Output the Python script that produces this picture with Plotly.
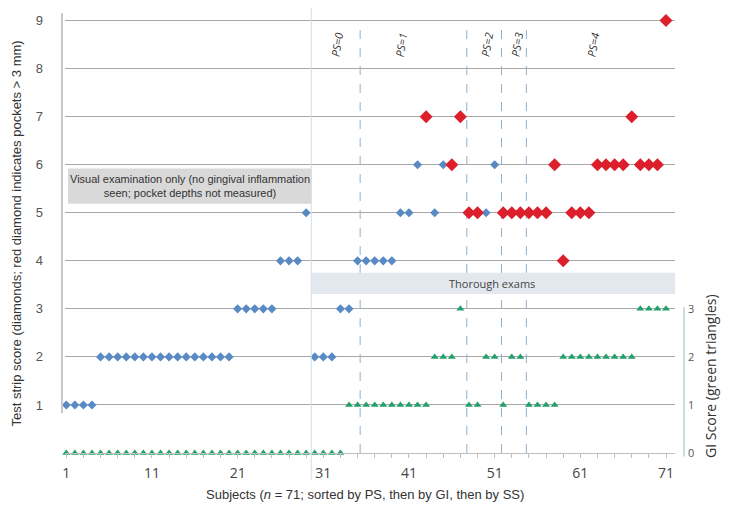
import plotly.graph_objects as go

# subject index 1..71 (sorted by PS, then GI, then SS)
subjects = list(range(1, 72))

# test strip score per subject
ss_score = [1, 1, 1, 1,
            2, 2, 2, 2, 2, 2, 2, 2, 2, 2, 2, 2, 2, 2, 2, 2,
            3, 3, 3, 3, 3,
            4, 4, 4,
            5,
            2, 2, 2,
            3, 3,
            4, 4, 4, 4, 4,
            5, 5, 6, 7, 5, 6, 6, 7,
            5, 5, 5, 6,
            5, 5, 5, 5, 5, 5,
            6, 4,
            5, 5, 5,
            6, 6, 6, 6,
            7,
            6, 6, 6,
            9]

# 1 = pockets > 3 mm (red diamond)
pocket = [0] * 42 + [1, 0, 0, 1, 1, 1, 1, 0, 0] + [1] * 20

# gingival index score per subject
gi_score = [0] * 33 + [1] * 10 + [2, 2, 2, 3, 1, 1, 2, 2, 1, 2, 2, 1, 1, 1, 1] + [2] * 9 + [3, 3, 3, 3]

# periodontal score group boundaries and label positions
ps_bounds = [35.3, 47.75, 51.8, 54.7]
ps_labels = ["PS=0", "PS=1", "PS=2", "PS=3", "PS=4"]
ps_label_x = [32.6, 40.1, 50.1, 53.6, 62.5]
exam_split = 29.6

x_tickvals = list(range(1, 72, 2))
x_ticktext = [str(v) if (v - 1) % 10 == 0 else "" for v in x_tickvals]

blue_x = [s for s, p in zip(subjects, pocket) if p == 0]
blue_y = [v for v, p in zip(ss_score, pocket) if p == 0]
red_x = [s for s, p in zip(subjects, pocket) if p == 1]
red_y = [v for v, p in zip(ss_score, pocket) if p == 1]

fig = go.Figure()

fig.add_trace(go.Scatter(
    x=subjects, y=gi_score, mode="markers", yaxis="y2",
    marker=dict(symbol="triangle-up", size=7, color="#23a06c"),
    cliponaxis=False, showlegend=False,
))
fig.add_trace(go.Scatter(
    x=blue_x, y=blue_y, mode="markers",
    marker=dict(symbol="diamond", size=7, color="#5a8ac4"),
    cliponaxis=False, showlegend=False,
))
fig.add_trace(go.Scatter(
    x=red_x, y=red_y, mode="markers",
    marker=dict(symbol="diamond", size=10, color="#dd1f2b"),
    cliponaxis=False, showlegend=False,
))

shapes = []
# PS group boundaries (drawn first so the boxes cover them)
for b in ps_bounds:
    shapes.append(dict(type="line", xref="x", yref="y", x0=b, x1=b, y0=0, y1=8.96,
                       line=dict(color="#8fb0cc", width=1, dash="dash"), layer="below"))
shapes += [
    # exam region boxes
    dict(type="rect", xref="x", yref="y", x0=1.2, x1=exam_split, y0=5.19, y1=5.92,
         fillcolor="#d9d9d9", line=dict(width=0), layer="below"),
    dict(type="rect", xref="x", yref="y", x0=exam_split, x1=72.05, y0=3.31, y1=3.75,
         fillcolor="#e2e8ed", line=dict(width=0), layer="below"),
    # split between visual and thorough exams
    dict(type="line", xref="x", yref="paper", x0=exam_split, x1=exam_split, y0=-0.06, y1=1.01,
         line=dict(color="#cfe0ec", width=1)),
    # left border line
    dict(type="line", xref="paper", yref="paper", x0=-0.005, x1=-0.005, y0=0.09, y1=0.995,
         line=dict(color="#c8c8c8", width=2)),
    # right GI axis line
    dict(type="line", xref="paper", yref="paper", x0=1.0148, x1=1.0148, y0=-0.008, y1=0.33,
         line=dict(color="#9fb6c8", width=1)),
]

annotations = [
    dict(x=15.4, y=5.555, xref="x", yref="y", showarrow=False,
         text="Visual examination only (no gingival inflammation<br>seen; pocket depths not measured)",
         font=dict(family="Liberation Sans", size=11, color="#333333")),
    dict(x=50.7, y=3.53, xref="x", yref="y", showarrow=False, text="Thorough exams",
         font=dict(family="Open Sans", size=11, color="#444444")),
    dict(x=-0.079, y=0.496, xref="paper", yref="paper", showarrow=False, textangle=-90,
         text="Test strip score (diamonds; red diamond indicates pockets > 3 mm)",
         font=dict(family="Liberation Sans", size=13, color="#333333")),
    dict(x=1.057, y=1.6 / 9.2, xref="paper", yref="paper", showarrow=False, textangle=-90,
         text="GI Score (green triangles)",
         font=dict(family="Open Sans", size=14, color="#333333")),
    dict(x=0.492, y=-0.095, xref="paper", yref="paper", showarrow=False,
         text="Subjects (<i>n</i> = 71; sorted by PS, then by GI, then by SS)",
         font=dict(family="Liberation Sans", size=13, color="#333333")),
]
for lab, lx in zip(ps_labels, ps_label_x):
    annotations.append(dict(x=lx, y=8.5, xref="x", yref="y", showarrow=False, textangle=-80,
                            text="<i>" + lab + "</i>",
                            font=dict(family="Open Sans", size=11, color="#333333")))
for a in annotations:
    a["xanchor"] = "center"
    a["yanchor"] = "middle"

# page body has an 8px margin, so the figure is 8px smaller than the window
fig.update_layout(
    width=721, height=508,
    margin=dict(l=57, r=54, t=3, b=63),
    plot_bgcolor="white", paper_bgcolor="white",
    xaxis=dict(
        range=[0.85, 72.05], tickmode="array", tickvals=x_tickvals, ticktext=x_ticktext,
        ticks="outside", ticklen=4, tickcolor="#bfbfbf", showline=True, linecolor="#bfbfbf",
        showgrid=False, zeroline=False, automargin=False, ticklabelstandoff=3,
        tickfont=dict(family="Open Sans", size=14, color="#444444"),
    ),
    yaxis=dict(
        range=[0, 9.2], tickvals=[1, 2, 3, 4, 5, 6, 7, 8, 9], showgrid=True,
        gridcolor="#a8a8a8", gridwidth=1, zeroline=False, ticks="", ticklabelstandoff=21,
        automargin=False,
        tickfont=dict(family="Liberation Sans", size=13, color="#555555"),
    ),
    yaxis2=dict(
        range=[0, 9.2], tickvals=[0, 1, 2, 3], overlaying="y", side="right",
        showgrid=False, zeroline=False, ticks="", ticklabelstandoff=12, automargin=False,
        tickfont=dict(family="Open Sans", size=11, color="#555555"),
    ),
    shapes=shapes,
    annotations=annotations,
)

fig.write_html("out.html")
